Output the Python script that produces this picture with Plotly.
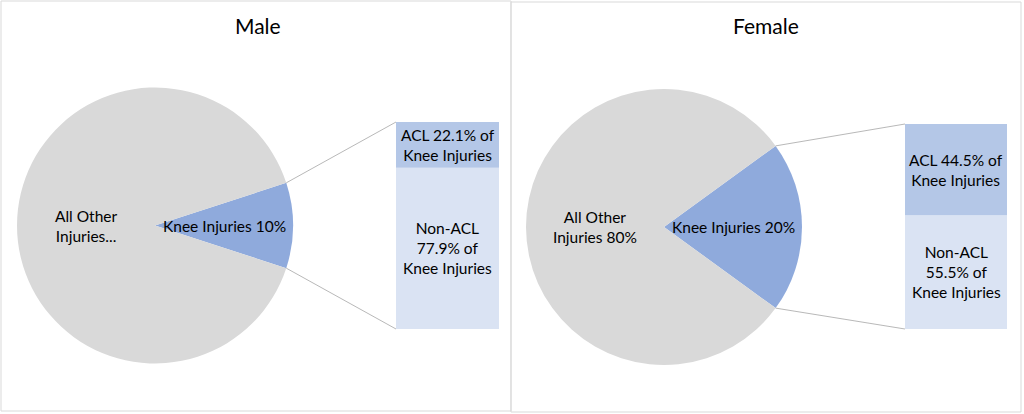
import math
import plotly.graph_objects as go

# ---- data -----------------------------------------------------------
panels = ["Male", "Female"]
pie_labels = ["Knee Injuries", "All Other Injuries"]
male_pie = [10, 90]
female_pie = [20, 80]
male_pie_text = ["Knee Injuries 10%", "All Other<br>Injuries..."]
female_pie_text = ["Knee Injuries 20%", "All Other<br>Injuries 80%"]

bar_labels = ["Non-ACL", "ACL"]
male_bar = [77.9, 22.1]
female_bar = [55.5, 44.5]
male_bar_text = ["Non-ACL<br>77.9% of<br>Knee Injuries", "ACL 22.1% of<br>Knee Injuries"]
female_bar_text = ["Non-ACL<br>55.5% of<br>Knee Injuries", "ACL 44.5% of<br>Knee Injuries"]

# ---- style / layout -------------------------------------------------
W, H = 1024, 414
FONT = "Lato, 'Open Sans', sans-serif"
pie_colors = ["#8FAADC", "#D9D9D9"]
bar_colors = ["#DAE3F3", "#B4C7E7"]
line_col = "#A6A6A6"
TXT = 15.5

# pixel geometry of each panel: pie centre, radius, bar box, title x, frame
geo = [
    dict(cx=155, cy=225.5, r=138, bx0=396, bx1=499, by0=122, by1=329, tx=258, frame=(1, 1, 511, 411)),
    dict(cx=664, cy=227, r=138, bx0=905, bx1=1007, by0=124, by1=329, tx=766, frame=(511, 2, 1021, 412)),
]


def px(x):
    return x / W


def py(y):
    return 1 - y / H


fig = go.Figure()
annotations = []
shapes = []

pies = [male_pie, female_pie]
pie_texts = [male_pie_text, female_pie_text]
bars = [male_bar, female_bar]
bar_texts = [male_bar_text, female_bar_text]

for i, name in enumerate(panels):
    g = geo[i]
    vals = pies[i]
    total = sum(vals)
    half = vals[0] / total * 180.0  # half-angle of the knee slice (deg)

    fig.add_trace(go.Pie(
        labels=pie_labels, values=vals, sort=False, direction="clockwise",
        rotation=90 - half, marker=dict(colors=pie_colors, line=dict(width=0)),
        textinfo="none", hoverinfo="label+percent", showlegend=False,
        domain=dict(x=[px(g["cx"] - g["r"]), px(g["cx"] + g["r"])],
                    y=[py(g["cy"] + g["r"]), py(g["cy"] - g["r"])]),
    ))

    # slice labels at half radius along each slice's mid angle
    start = -half
    for v, t in zip(vals, pie_texts[i]):
        span = v / total * 360.0
        mid = math.radians(start + span / 2)
        start += span
        annotations.append(dict(
            x=px(g["cx"] + 0.5 * g["r"] * math.cos(mid)),
            y=py(g["cy"] - 0.5 * g["r"] * math.sin(mid)),
            xref="paper", yref="paper", xanchor="center", yanchor="middle",
            text=t, showarrow=False,
            font=dict(family=FONT, size=TXT, color="#000000")))

    # stacked bar for the breakdown
    xa = "x" if i == 0 else "x2"
    ya = "y" if i == 0 else "y2"
    base = 0
    for v, lab, col, t in zip(bars[i], bar_labels, bar_colors, bar_texts[i]):
        fig.add_trace(go.Bar(
            x=[0], y=[v], base=[base], width=1, name=lab, marker=dict(color=col, line=dict(width=0)),
            xaxis=xa, yaxis=ya, showlegend=False, hoverinfo="name+y"))
        annotations.append(dict(
            x=0, y=base + v / 2, xref=xa, yref=ya, xanchor="center", yanchor="middle",
            text=t, showarrow=False,
            font=dict(family=FONT, size=TXT, color="#000000")))
        base += v

    # connector lines from slice edges to bar corners
    a = math.radians(half)
    ex = g["cx"] + g["r"] * math.cos(a)
    ey_top = g["cy"] - g["r"] * math.sin(a)
    ey_bot = g["cy"] + g["r"] * math.sin(a)
    for ey, by in [(ey_top, g["by0"]), (ey_bot, g["by1"])]:
        shapes.append(dict(type="line", xref="paper", yref="paper",
                           x0=px(ex), y0=py(ey), x1=px(g["bx0"]), y1=py(by),
                           line=dict(color=line_col, width=0.8)))

    # panel frame
    f = g["frame"]
    shapes.append(dict(type="rect", xref="paper", yref="paper",
                       x0=px(f[0]), y0=py(f[3]), x1=px(f[2]), y1=py(f[1]),
                       line=dict(color="#D9D9D9", width=1), fillcolor="rgba(0,0,0,0)"))

    annotations.append(dict(
        x=px(g["tx"]), y=py(25), xref="paper", yref="paper", xanchor="center", yanchor="middle",
        text=name, showarrow=False,
        font=dict(family=FONT, size=21, color="#000000")))

axis_common = dict(visible=False, fixedrange=True)
fig.update_layout(
    width=W, height=H,
    margin=dict(l=0, r=0, t=0, b=0),
    paper_bgcolor="white", plot_bgcolor="rgba(0,0,0,0)",
    barmode="overlay",
    xaxis=dict(domain=[px(geo[0]["bx0"]), px(geo[0]["bx1"])], range=[-0.5, 0.5], **axis_common),
    yaxis=dict(domain=[py(geo[0]["by1"]), py(geo[0]["by0"])], range=[0, 100], **axis_common),
    xaxis2=dict(domain=[px(geo[1]["bx0"]), px(geo[1]["bx1"])], range=[-0.5, 0.5], anchor="y2", **axis_common),
    yaxis2=dict(domain=[py(geo[1]["by1"]), py(geo[1]["by0"])], range=[0, 100], anchor="x2", **axis_common),
    annotations=annotations,
    shapes=shapes,
)

fig.write_html("out.html", config={"displayModeBar": False},
               post_script="document.body.style.margin='0';")
